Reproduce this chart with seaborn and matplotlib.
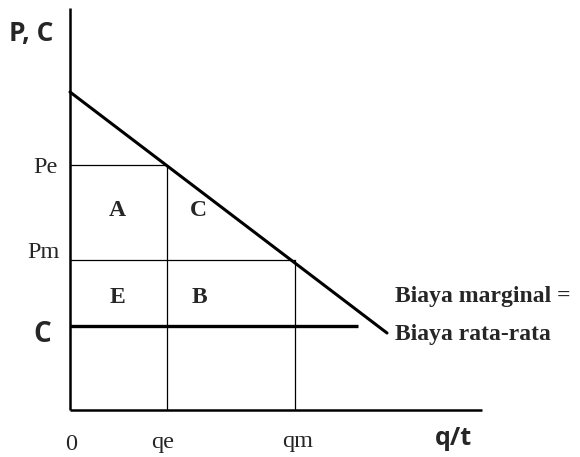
import pandas as pd
import seaborn as sns
import matplotlib.pyplot as plt

# demand line (q, P) and key levels, in chart units
demand_q = [0, 317]
demand_p = [318, 77]
pe, pm = 245, 150
qe, qm = 97, 225
cost = 84
cost_q_end = 288
q_axis_end = 412
p_axis_end = 402

sns.set_style("white")

fig = plt.figure(figsize=(5.8, 4.57), dpi=100)
ax = fig.add_axes([0, 0, 1, 1])
ax.set_xlim(-70, 510)
ax.set_ylim(-47, 410)
ax.axis("off")

# axes
ax.plot([0, 0], [0, p_axis_end], color="black", lw=1.8, solid_capstyle="butt")
ax.plot([0, q_axis_end], [0, 0], color="black", lw=1.8, solid_capstyle="butt")

# demand
df = pd.DataFrame({"q": demand_q, "P": demand_p})
sns.lineplot(data=df, x="q", y="P", ax=ax, color="black", lw=2.2, estimator=None)

# cost line
ax.plot([0, cost_q_end], [cost, cost], color="black", lw=2.4, solid_capstyle="butt")

# thin guide lines
thin = dict(color="black", lw=0.9)
ax.plot([0, qe], [pe, pe], **thin)
ax.plot([0, qm], [pm, pm], **thin)
ax.plot([qe, qe], [0, pe], **thin)
ax.plot([qm, qm], [0, pm], **thin)

serif = "Liberation Serif"
sans = "Open Sans"

ax.text(-39, 377, "P, C", family=sans, weight="bold", fontsize=19,
        ha="center", va="center")
ax.text(-12, 237, "Pe", family=serif, fontsize=17.5, ha="right", va="baseline")
ax.text(-10, 152, "Pm", family=serif, fontsize=17.5, ha="right", va="baseline")
ax.text(-28, 68, "C", family=sans, weight="bold", fontsize=20,
        ha="center", va="baseline")

for lab, x, y in [("A", 47, 194), ("C", 128, 194), ("E", 47, 107), ("B", 129, 107)]:
    ax.text(x, y, lab, family=serif, weight="bold", fontsize=17,
            ha="center", va="baseline")

ax.text(1, -40, "0", family=serif, fontsize=17.5, ha="center", va="baseline")
ax.text(93, -38, "qe", family=serif, fontsize=17.5, ha="center", va="baseline")
ax.text(228, -37, "qm", family=serif, fontsize=17.5, ha="center", va="baseline")
ax.text(383, -35, "q/t", family=sans, weight="bold", fontsize=18,
        ha="center", va="baseline")

ax.text(325, 108, "Biaya marginal =", family=serif, weight="bold", fontsize=17,
        ha="left", va="baseline")
ax.text(325, 70, "Biaya rata-rata", family=serif, weight="bold", fontsize=17,
        ha="left", va="baseline")

fig.savefig("out.png", dpi=100)
